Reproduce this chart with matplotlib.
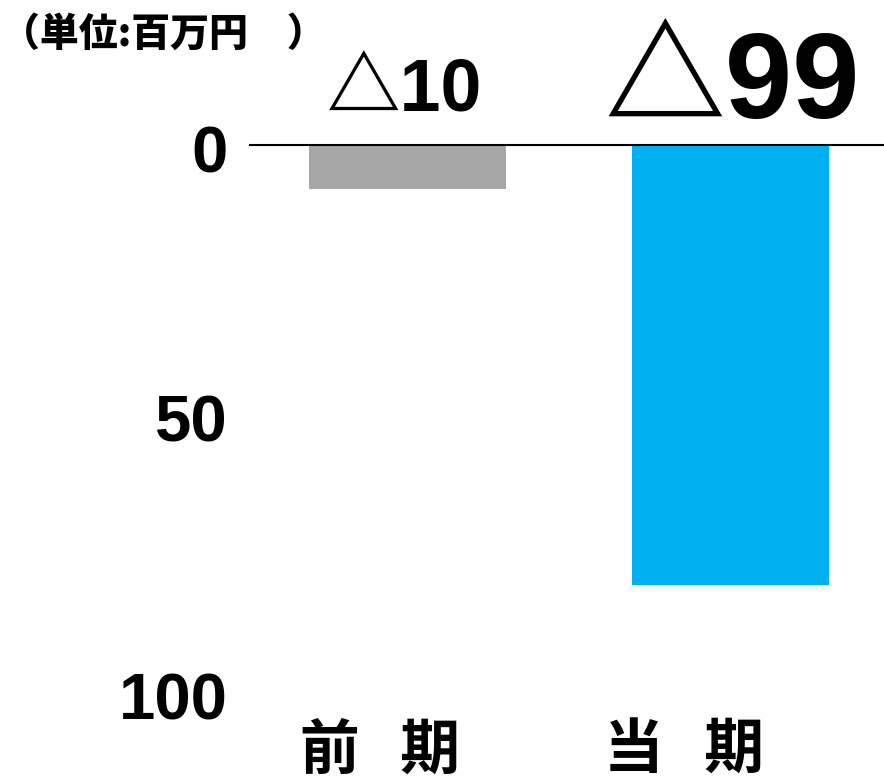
import numpy as np
import matplotlib
matplotlib.use("Agg")
import matplotlib.pyplot as plt

plt.rcParams['font.family'] = ['Liberation Sans', 'Noto Sans CJK JP', 'DejaVu Sans']

categories = ['前   期', '当   期']
values = [10, 99]
value_labels = ['△10', '△99']
colors = ['#A6A6A6', '#00B0F0']
tick_labels = ['0', '50', '100']
unit_label = '（単位:百万円　）'

fig = plt.figure(figsize=(8.84, 7.82), dpi=100)
# axes: left 250px, right 884px, top 145px, bottom 705px
ax = fig.add_axes([250/884, 1 - 705/782, 634/884, 560/782])

x = np.arange(len(values))
ax.bar(x, values, width=0.61, color=colors)
ax.set_xlim(-0.4876, 1.475)
ax.set_ylim(126, 0)

for s in ['left', 'right', 'bottom']:
    ax.spines[s].set_visible(False)
ax.spines['top'].set_linewidth(1.5)
ax.spines['top'].set_color('black')
ax.set_xticks([])
ax.set_yticks([])

# value labels above the zero line
ax.text(-0.01, -7.5, value_labels[0], ha='center', va='baseline', fontsize=53,
        fontweight='bold', family=['Liberation Sans', 'Noto Sans CJK JP'])
ax.text(1.005, -6.1, value_labels[1], ha='center', va='baseline', fontsize=87,
        fontweight='bold', family=['Liberation Sans', 'Noto Sans CJK JP'])

# y tick labels (placed as in the original picture)
tick_pos = [2.4, 63, 125.5]
for t, p in zip(tick_labels, tick_pos):
    ax.text(-0.035, p, t, transform=ax.get_yaxis_transform(), ha='right', va='center',
            fontsize=47, fontweight='bold')

# category labels
cat_shift = [-0.085, -0.144]
for i, c in enumerate(categories):
    ax.text(i + cat_shift[i], 136.6, c, ha='center', va='center', fontsize=43,
            fontweight='bold', family=['Noto Sans CJK JP'])

fig.text(1/884, 1 - 34/782, unit_label, ha='left', va='center', fontsize=28,
         fontweight='heavy', family=['Noto Sans CJK JP'])

fig.savefig('out.png', dpi=100)
